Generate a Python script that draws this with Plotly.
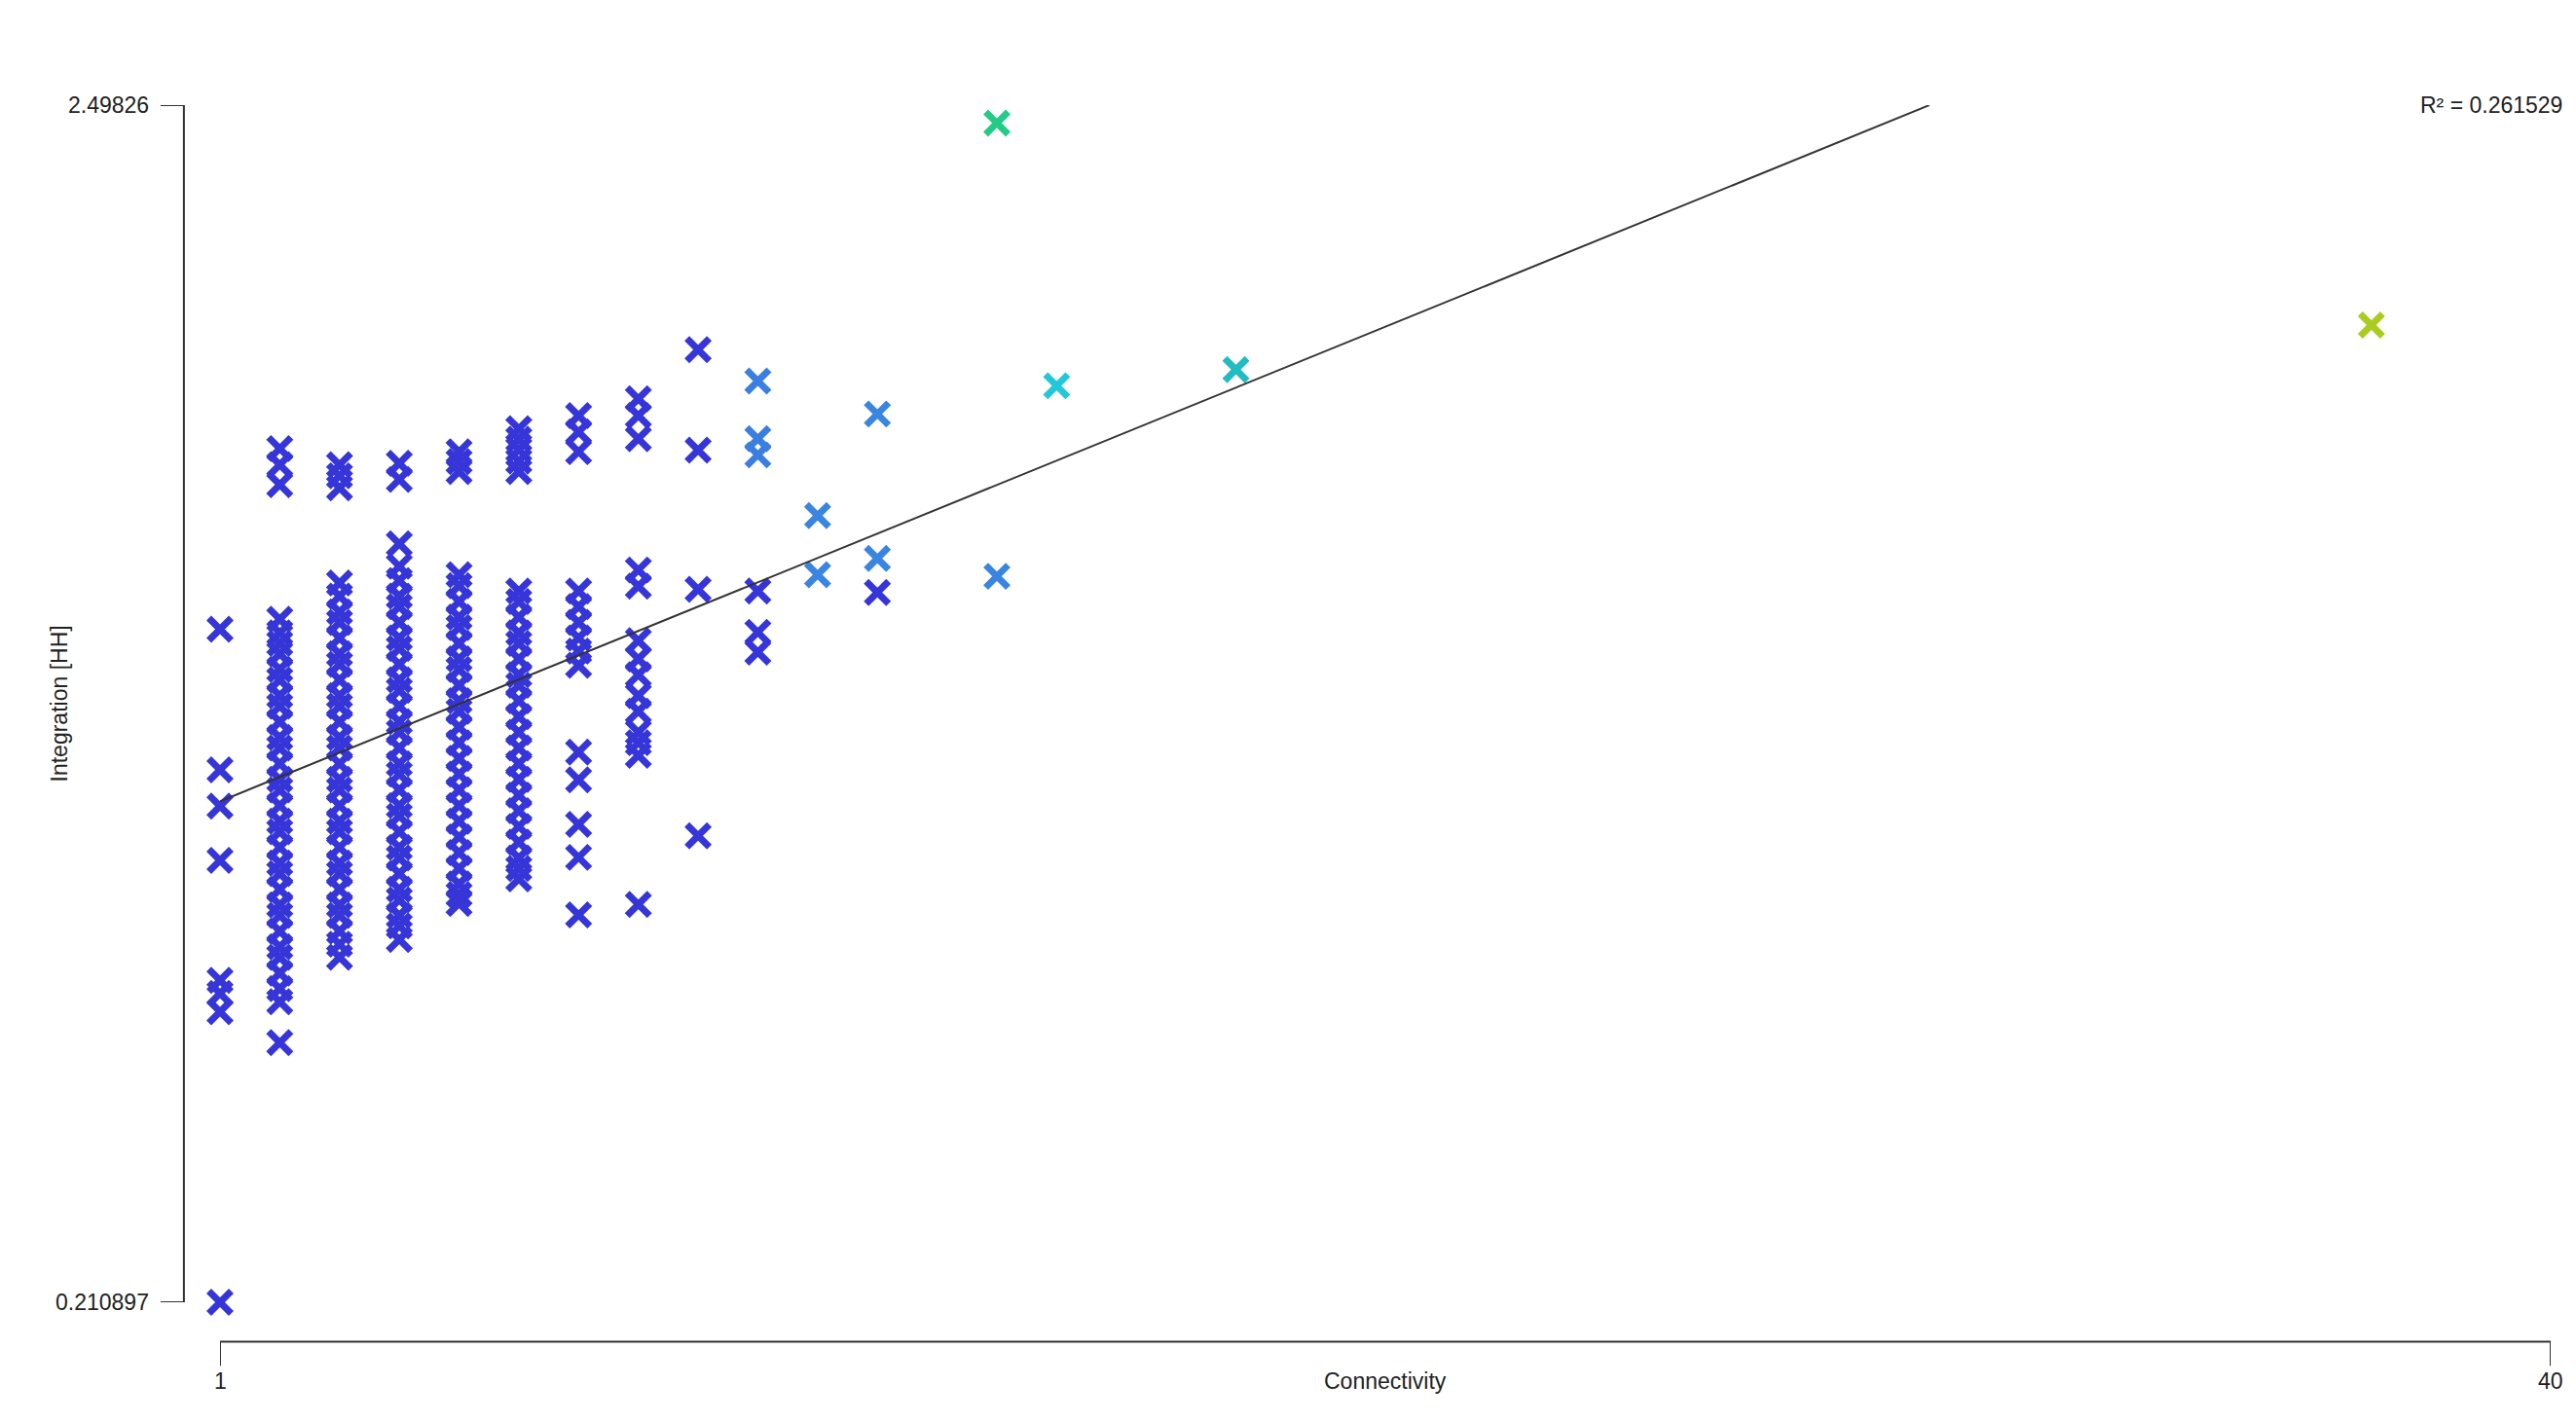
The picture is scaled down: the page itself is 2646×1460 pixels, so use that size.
import plotly.graph_objects as go

# connectivity -> integration values, per column
col_1 = [1.497, 1.228, 1.159, 1.055, 0.826, 0.801, 0.766, 0.211]
col_2 = [1.842, 1.811, 1.773, 1.516, 1.49, 1.47, 1.45, 1.42, 1.40, 1.37, 1.35, 1.32, 1.29, 1.27,
         1.24, 1.21, 1.19, 1.16, 1.13, 1.11, 1.08, 1.05, 1.03, 1.00, 0.97, 0.95, 0.92, 0.89,
         0.87, 0.84, 0.81, 0.785, 0.707]
col_3 = [1.811, 1.790, 1.767, 1.585, 1.56, 1.53, 1.51, 1.48, 1.45, 1.43, 1.40, 1.37, 1.35, 1.32,
         1.29, 1.27, 1.24, 1.21, 1.19, 1.16, 1.13, 1.11, 1.08, 1.05, 1.03, 1.00, 0.97, 0.95,
         0.92, 0.895, 0.870]
col_4 = [1.814, 1.783, 1.660, 1.617, 1.59, 1.56, 1.54, 1.51, 1.48, 1.46, 1.43, 1.40, 1.38, 1.35,
         1.32, 1.30, 1.27, 1.24, 1.22, 1.19, 1.16, 1.14, 1.11, 1.08, 1.06, 1.03, 1.00, 0.98,
         0.95, 0.93, 0.904]
col_5 = [1.836, 1.817, 1.798, 1.601, 1.58, 1.55, 1.52, 1.50, 1.47, 1.44, 1.42, 1.39, 1.36, 1.34,
         1.31, 1.28, 1.25, 1.22, 1.19, 1.16, 1.13, 1.10, 1.07, 1.04, 1.01, 0.99, 0.973]
col_6 = [1.880, 1.860, 1.840, 1.818, 1.798, 1.570, 1.55, 1.52, 1.49, 1.47, 1.44, 1.41, 1.39,
         1.36, 1.33, 1.30, 1.27, 1.24, 1.21, 1.18, 1.15, 1.12, 1.09, 1.06, 1.04, 1.020]
col_7 = [1.905, 1.874, 1.836, 1.570, 1.54, 1.51, 1.48, 1.455, 1.428, 1.262, 1.209, 1.124,
         1.061, 0.951]
col_8 = [1.937, 1.905, 1.861, 1.610, 1.579, 1.475, 1.44, 1.41, 1.37, 1.34, 1.30, 1.28, 1.256,
         0.971]
col_9 = [2.031, 1.839, 1.573, 1.102]
col_10 = [1.971, 1.861, 1.830, 1.570, 1.491, 1.453]
col_11 = [1.714, 1.601]
col_12 = [1.908, 1.632, 1.567]
col_14 = [2.464, 1.598]
col_15 = [1.962]
col_18 = [1.993]
col_37 = [2.078]

columns = {1: col_1, 2: col_2, 3: col_3, 4: col_4, 5: col_5, 6: col_6, 7: col_7, 8: col_8,
           9: col_9, 10: col_10, 11: col_11, 12: col_12, 14: col_14, 15: col_15, 18: col_18,
           37: col_37}

# colours of the odd points (everything else is the dark blue)
special_colors = {
    (10, 1.971): "#3a7fe0", (10, 1.861): "#3a7fe0", (10, 1.830): "#3a7fe0",
    (11, 1.714): "#3a85e0", (11, 1.601): "#3a85e0",
    (12, 1.908): "#3a85e0", (12, 1.632): "#3a85e0",
    (14, 2.464): "#22cc88", (14, 1.598): "#3a85e0",
    (15, 1.962): "#22c8d8", (18, 1.993): "#22bcc0", (37, 2.078): "#aacc22",
}
base_color = "#3535d8"

fit_x = [1, 29.6]
fit_y = [1.168, 2.498]
r_squared = "R² = 0.261529"

x_min, x_max = 1, 40
y_min, y_max = 0.210897, 2.49826

xs, ys, colors = [], [], []
for cx, vals in columns.items():
    for v in vals:
        xs.append(cx)
        ys.append(v)
        colors.append(special_colors.get((cx, v), base_color))

fig = go.Figure()
fig.add_trace(go.Scatter(
    x=xs, y=ys, mode="markers",
    marker={"symbol": "x-thin", "size": 23, "color": colors,
            "line": {"width": 7, "color": colors}},
    cliponaxis=False, showlegend=False,
))
fig.add_trace(go.Scatter(x=fit_x, y=fit_y, mode="lines",
                         line={"color": "#333333", "width": 2}, showlegend=False))

font = {"family": "Liberation Sans, Arial", "size": 23, "color": "#222222"}
ax_x = -0.033
ax_y = -0.0155

shapes = [
    {"type": "line", "xref": "x", "yref": "paper", "x0": x_min, "x1": x_max, "y0": ax_x, "y1": ax_x,
     "line": {"color": "#333", "width": 2}},
    {"type": "line", "xref": "paper", "yref": "y", "x0": ax_y, "x1": ax_y, "y0": y_min, "y1": y_max,
     "line": {"color": "#333", "width": 2}},
]
for xv in (x_min, x_max):
    shapes.append({"type": "line", "xref": "x", "yref": "paper", "x0": xv, "x1": xv,
                   "y0": ax_x, "y1": ax_x - 0.02, "line": {"color": "#333", "width": 2}})
for yv in (y_min, y_max):
    shapes.append({"type": "line", "xref": "paper", "yref": "y", "x0": ax_y, "x1": ax_y - 0.01,
                   "y0": yv, "y1": yv, "line": {"color": "#333", "width": 2}})

annotations = [
    {"x": x_min, "y": ax_x - 0.045, "xref": "x", "yref": "paper", "text": "1", "showarrow": False,
     "font": font},
    {"x": x_max, "y": ax_x - 0.045, "xref": "x", "yref": "paper", "text": "40", "showarrow": False,
     "font": font},
    {"x": 0.5, "y": ax_x - 0.045, "xref": "paper", "yref": "paper", "text": "Connectivity",
     "showarrow": False, "font": font},
    {"x": ax_y - 0.014, "y": y_min, "xref": "paper", "yref": "y", "text": "0.210897",
     "showarrow": False, "xanchor": "right", "font": font},
    {"x": ax_y - 0.014, "y": y_max, "xref": "paper", "yref": "y", "text": "2.49826",
     "showarrow": False, "xanchor": "right", "font": font},
    {"x": -0.075, "y": 0.5, "xref": "paper", "yref": "paper", "text": "Integration [HH]",
     "textangle": -90, "showarrow": False, "font": font},
    {"x": 1.006, "y": y_max, "xref": "paper", "yref": "y", "text": r_squared, "showarrow": False,
     "xanchor": "right", "font": font},
]

fig.update_layout(
    width=2646, height=1460,
    margin={"l": 218, "r": 34, "t": 100, "b": 130},
    plot_bgcolor="white", paper_bgcolor="white",
    xaxis={"range": [x_min, x_max], "visible": False},
    yaxis={"range": [y_min, y_max], "visible": False},
    shapes=shapes, annotations=annotations,
)

fig.write_html("out.html")
